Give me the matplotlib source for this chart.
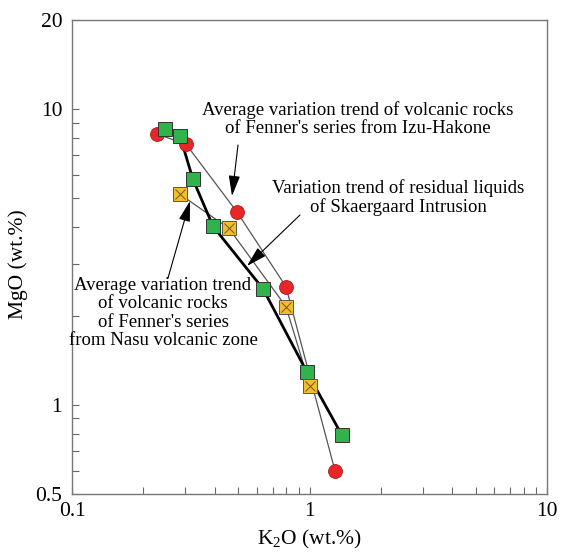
import matplotlib
matplotlib.use("Agg")
import matplotlib.pyplot as plt
from matplotlib.ticker import FixedLocator, NullFormatter, FixedFormatter

plt.rcParams['font.family'] = ['Liberation Serif', 'DejaVu Serif']
plt.rcParams['mathtext.fontset'] = 'custom'
plt.rcParams['mathtext.rm'] = 'Liberation Serif'

# ---- data ----
izu_k2o = [0.228, 0.302, 0.496, 0.796, 1.28]
izu_mgo = [8.23, 7.61, 4.48, 2.51, 0.60]

skg_k2o = [0.246, 0.285, 0.323, 0.393, 0.637, 0.976, 1.37]
skg_mgo = [8.55, 8.10, 5.79, 4.01, 2.47, 1.29, 0.79]

nasu_k2o = [0.285, 0.458, 0.796, 1.005]
nasu_mgo = [5.15, 3.95, 2.15, 1.16]

x_ticks = [0.1, 1, 10]
x_labels = ['0.1', '1', '10']
y_ticks = [0.5, 1, 10, 20]
y_labels = ['0.5', '1', '10', '20']

W, H = 561, 552
fig = plt.figure(figsize=(W / 100, H / 100), dpi=100)
ax = fig.add_axes([72 / W, 58 / H, 475 / W, 474 / H])
ax.set_xscale('log')
ax.set_yscale('log')
ax.set_xlim(0.1, 10)
ax.set_ylim(0.5, 20)

# trend lines
ax.plot(izu_k2o, izu_mgo, color='#555555', lw=0.9, zorder=2)
ax.plot(nasu_k2o, nasu_mgo, color='#555555', lw=0.9, zorder=2)
ax.plot(skg_k2o[1:], skg_mgo[1:], color='black', lw=2.0, zorder=2)
ax.plot(skg_k2o[:2], skg_mgo[:2], color='#555555', lw=0.9, zorder=2)

# markers
ax.plot(izu_k2o, izu_mgo, 'o', ls='none', ms=10, mfc='#e8262a', mec='#b01a1a', mew=0.6, zorder=3)
ax.plot(skg_k2o, skg_mgo, 's', ls='none', ms=10, mfc='#2fb34a', mec='#333333', mew=0.7, zorder=4)
ax.plot(nasu_k2o, nasu_mgo, 's', ls='none', ms=9.5, mfc='#f4bd2a', mec='#555555', mew=0.7, zorder=4)
ax.plot(nasu_k2o, nasu_mgo, 'x', ls='none', ms=7, mec='#6b5a20', mew=0.7, zorder=5)

# ticks
for axis in (ax.xaxis, ax.yaxis):
    axis.set_minor_formatter(NullFormatter())
ax.xaxis.set_major_locator(FixedLocator(x_ticks))
ax.xaxis.set_major_formatter(FixedFormatter(x_labels))
ax.xaxis.set_minor_locator(FixedLocator([m * d for d in (0.1, 1) for m in range(2, 10)]))
ax.yaxis.set_major_locator(FixedLocator(y_ticks))
ax.yaxis.set_major_formatter(FixedFormatter(y_labels))
ax.yaxis.set_minor_locator(FixedLocator([0.6, 0.7, 0.8, 0.9] + list(range(2, 10))))
ax.tick_params(which='both', direction='in', length=5, width=0.8, color='#666666',
               top=False, right=False, labelsize=15.5)
ax.tick_params(axis='x', pad=6)
ax.tick_params(axis='y', pad=7)
for s in ax.spines.values():
    s.set_color('#777777')
    s.set_linewidth(1.0)

ax.set_xlabel('K$_2$O (wt.%)', fontsize=15.5, labelpad=5)
ax.set_ylabel('MgO (wt.%)', fontsize=15.5)
ax.yaxis.set_label_coords(-0.093, 0.485)

arrow = dict(arrowstyle='-|>,head_length=0.9,head_width=0.25', color='black', lw=0.8,
             mutation_scale=14, shrinkA=0, shrinkB=0)
fs = 13.5
lsp = 1.08


def pointer(x0, y0, x1, y1):
    # arrow from (x0, y0) to tip (x1, y1), in picture pixels from the top-left
    ax.annotate("", xy=(x1, H - y1), xytext=(x0, H - y0),
                xycoords='figure pixels', textcoords='figure pixels', arrowprops=arrow)


def label(x, y, s):
    fig.text(x / W, 1 - y / H, s, fontsize=fs, ha='center', va='center', linespacing=lsp)


label(358, 119, "Average variation trend of volcanic rocks\nof Fenner's series from Izu-Hakone")
pointer(238, 145, 232, 196)

label(398, 198, "Variation trend of residual liquids\nof Skaergaard Intrusion")
pointer(300, 215, 247, 266)

label(163, 313, "Average variation trend\nof volcanic rocks\nof Fenner's series\nfrom Nasu volcanic zone")
pointer(168, 278, 190, 201)

fig.savefig('out.png', dpi=100)
